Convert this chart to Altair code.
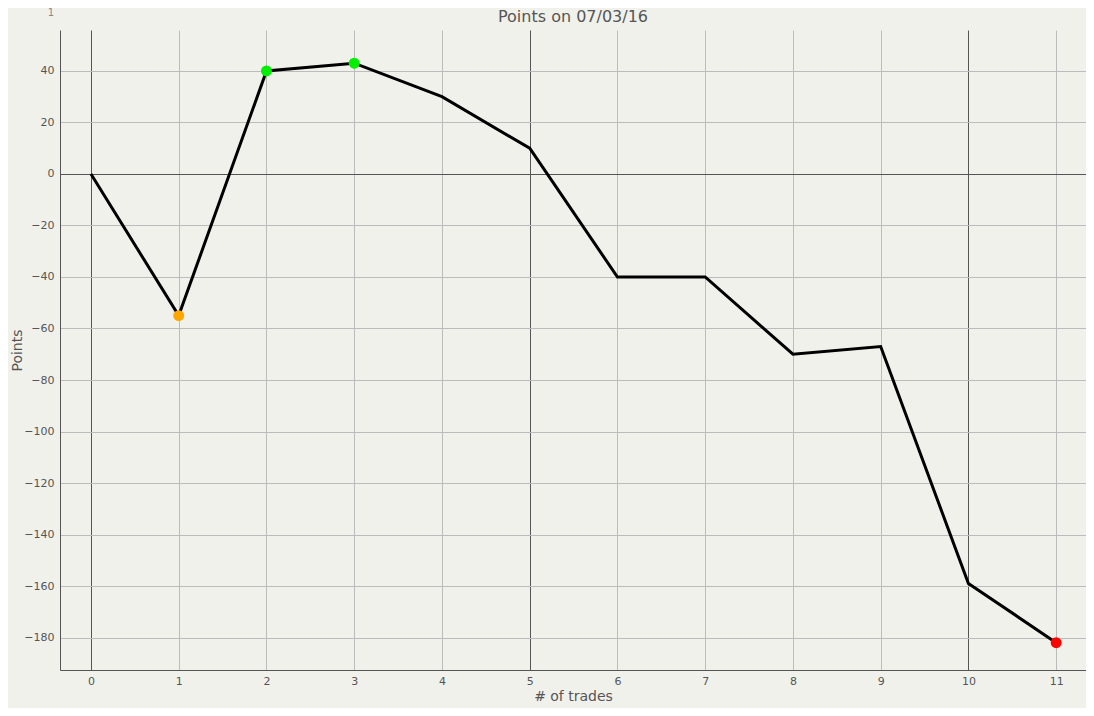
import altair as alt
import pandas as pd

trades = [0, 1, 2, 3, 4, 5, 6, 7, 8, 9, 10, 11]
points = [0, -55, 40, 43, 30, 10, -40, -40, -70, -67, -159, -182]
marker = ["", "low", "high", "high", "", "", "", "", "", "", "", "end"]

x_ticks = list(range(0, 12))
y_ticks = list(range(-180, 41, 20))

df = pd.DataFrame({"trade": trades, "points": points, "marker": marker})

FONT = "DejaVu Sans"
TXT = "#555555"
W, H = 1026, 640

x_axis = alt.Axis(
    values=x_ticks, ticks=False, labelPadding=5, labelFontSize=11, labelColor=TXT,
    title="# of trades", titleFontSize=14, titleFontWeight="normal", titleColor=TXT,
    titlePadding=3, domainColor="#555555",
    gridColor={"condition": {"test": "datum.value % 5 === 0", "value": "#555555"}, "value": "#bcbcbc"},
)
y_axis = alt.Axis(
    values=y_ticks, ticks=False, labelPadding=6, labelFontSize=11, labelColor=TXT,
    title="Points", titleFontSize=14, titleFontWeight="normal", titleColor=TXT,
    titleX=-36, domainColor="#555555",
    gridColor={"condition": {"test": "datum.value === 0", "value": "#555555"}, "value": "#bcbcbc"},
)

base = alt.Chart(df).encode(
    x=alt.X("trade:Q", scale=alt.Scale(domain=[-0.353, 11.34], nice=False, zero=False), axis=x_axis),
    y=alt.Y("points:Q", scale=alt.Scale(domain=[-192.6, 55.9], nice=False, zero=False), axis=y_axis),
)

line = base.mark_line(color="black", strokeWidth=3)

dots = base.mark_circle(size=120, opacity=1).encode(
    color=alt.Color(
        "marker:N",
        scale=alt.Scale(domain=["low", "high", "end"], range=["#ffa500", "#00ee00", "#ff0000"]),
        legend=None,
    )
).transform_filter("datum.marker != ''")

labels = pd.DataFrame({"t": ["Points on 07/03/16", "1"], "kind": ["title", "corner"]})

title = alt.Chart(labels).mark_text(
    font=FONT, fontSize=16, color=TXT, align="center", baseline="middle"
).encode(x=alt.value(W / 2), y=alt.value(-13), text="t:N").transform_filter("datum.kind == 'title'")

corner = alt.Chart(labels).mark_text(
    font=FONT, fontSize=10, color="#888888", align="center", baseline="top"
).encode(x=alt.value(-9), y=alt.value(-22), text="t:N").transform_filter("datum.kind == 'corner'")

chart = (
    (line + dots + title + corner)
    .properties(
        width=W,
        height=H,
        autosize=alt.AutoSizeParams(type="none"),
        padding={"left": 52, "top": 22, "right": 0, "bottom": 38},
        background="#f1f1ec",
    )
    .configure(font=FONT)
    .configure_view(stroke=None)
)

chart.save("out.html", embed_options={"renderer": "svg", "actions": False})
